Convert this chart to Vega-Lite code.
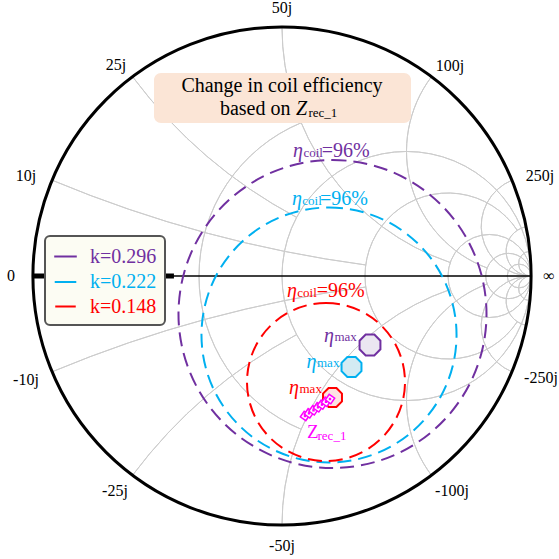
{
  "$schema": "https://vega.github.io/schema/vega-lite/v6.json",
  "width": 559,
  "height": 559,
  "autosize": "none",
  "padding": 0,
  "background": "white",
  "config": {"view": {"stroke": null}, "legend": {"strokeWidth": 2, "labelFont": "Liberation Serif", "labelFontSize": 20}},
  "datasets": {
    "grid": [
      {"cx": 0.333333, "cy": 0, "R": 0.666667, "t1": -0.39479, "t2": -2.7468},
      {"cx": 0.5, "cy": 0, "R": 0.5, "t1": 1.570796, "t2": -4.712389},
      {"cx": 0.666667, "cy": 0, "R": 0.333333, "t1": 0.98783, "t2": -4.12942},
      {"cx": 0.833333, "cy": 0, "R": 0.166667, "t1": 1.570796, "t2": -4.712389},
      {"cx": 0.909091, "cy": 0, "R": 0.090909, "t1": 1.570796, "t2": -4.712389},
      {"cx": 0.952381, "cy": 0, "R": 0.047619, "t1": 1.570796, "t2": -4.712389},
      {"cx": 1, "cy": 5, "R": 5, "t1": -2.7468, "t2": -3.00846},
      {"cx": 1, "cy": -5, "R": 5, "t1": 5.88839, "t2": 6.15005},
      {"cx": 1, "cy": 2, "R": 2, "t1": -2.214297, "t2": -2.651635},
      {"cx": 1, "cy": -2, "R": 2, "t1": 5.35589, "t2": 5.793228},
      {"cx": 1, "cy": 1, "R": 1, "t1": -1.570796, "t2": -2.811296},
      {"cx": 1, "cy": -1, "R": 1, "t1": 4.712389, "t2": 5.952889},
      {"cx": 1, "cy": 0.5, "R": 0.5, "t1": -0.927295, "t2": -2.781769},
      {"cx": 1, "cy": -0.5, "R": 0.5, "t1": 4.068888, "t2": 5.923362},
      {"cx": 1, "cy": 0.2, "R": 0.2, "t1": -0.394791, "t2": -3.141593},
      {"cx": 1, "cy": -0.2, "R": 0.2, "t1": 3.536384, "t2": 6.283185},
      {"cx": 1, "cy": 0.1, "R": 0.1, "t1": -0.199337, "t2": -3.141593},
      {"cx": 1, "cy": -0.1, "R": 0.1, "t1": 3.34093, "t2": 6.283185},
      {"cx": 1, "cy": 0.05, "R": 0.05, "t1": -0.099669, "t2": -3.141593},
      {"cx": 1, "cy": -0.05, "R": 0.05, "t1": 3.241262, "t2": 6.283185}
    ],
    "eff": [
      {"k": "0.296", "cx": 0.2028, "cy": -0.1526, "R": 0.6185},
      {"k": "0.222", "cx": 0.1888, "cy": -0.2369, "R": 0.512},
      {"k": "0.148", "cx": 0.1767, "cy": -0.4257, "R": 0.3173}
    ],
    "etamax": [
      {"k": "0.296", "X": 0.3534, "Y": -0.2771},
      {"k": "0.222", "X": 0.2791, "Y": -0.3655},
      {"k": "0.148", "X": 0.2028, "Y": -0.488}
    ],
    "trace": [
      {"X": 0.0924, "Y": -0.5622},
      {"X": 0.1084, "Y": -0.5514},
      {"X": 0.1265, "Y": -0.5394},
      {"X": 0.1446, "Y": -0.5273},
      {"X": 0.1606, "Y": -0.5165},
      {"X": 0.1767, "Y": -0.5052},
      {"X": 0.1928, "Y": -0.494}
    ],
    "ticks": [
      {"X": -1.0281, "Y": 0.4016, "t": "10j"},
      {"X": -0.6667, "Y": 0.8474, "t": "25j"},
      {"X": 0, "Y": 1.0763, "t": "50j"},
      {"X": 0.6747, "Y": 0.8434, "t": "100j"},
      {"X": 1.0361, "Y": 0.4016, "t": "250j"},
      {"X": -1.0884, "Y": 0, "t": "0"},
      {"X": 1.0723, "Y": 0, "t": "∞"},
      {"X": -1.0281, "Y": -0.4177, "t": "-10j"},
      {"X": -0.6707, "Y": -0.8635, "t": "-25j"},
      {"X": 0, "Y": -1.0843, "t": "-50j"},
      {"X": 0.6827, "Y": -0.8635, "t": "-100j"},
      {"X": 1.0402, "Y": -0.4096, "t": "-250j"}
    ],
    "eta": [
      {"k": "0.296", "X": 0.0843, "Y": 0.4779},
      {"k": "0.222", "X": 0.0803, "Y": 0.2851},
      {"k": "0.148", "X": 0.0602, "Y": -0.0831},
      {"k": "0.296", "X": 0.2088, "Y": -0.2651},
      {"k": "0.222", "X": 0.1386, "Y": -0.3695},
      {"k": "0.148", "X": 0.0683, "Y": -0.4739}
    ],
    "subs": [
      {"k": "0.296", "X": 0.0863, "Y": 0.4779, "t": "coil"},
      {"k": "0.222", "X": 0.0815, "Y": 0.2851, "t": "coil"},
      {"k": "0.148", "X": 0.0614, "Y": -0.0831, "t": "coil"},
      {"k": "0.296", "X": 0.2108, "Y": -0.261, "t": "max"},
      {"k": "0.222", "X": 0.1406, "Y": -0.3655, "t": "max"},
      {"k": "0.148", "X": 0.0703, "Y": -0.4699, "t": "max"}
    ],
    "pct": [
      {"k": "0.296", "X": 0.1594, "Y": 0.4779, "t": "=96%"},
      {"k": "0.222", "X": 0.1526, "Y": 0.2851, "t": "=96%"},
      {"k": "0.148", "X": 0.1394, "Y": -0.0831, "t": "=96%"}
    ]
  },
  "layer": [
    {
      "data": {"name": "grid"},
      "mark": {"type": "arc", "filled": false, "stroke": "#cccccc", "strokeWidth": 1},
      "encoding": {
        "x": {"field": "cx", "type": "quantitative", "scale": {"domain": [-1.13253, 1.11245], "nice": false, "zero": false}, "axis": null},
        "y": {"field": "cy", "type": "quantitative", "scale": {"domain": [-1.13655, 1.10843], "nice": false, "zero": false}, "axis": null},
        "radius": {"field": "R", "type": "quantitative", "stack": null, "scale": {"type": "linear", "domain": [0, 1], "range": [0, 249], "zero": true, "nice": false}},
        "radius2": {"field": "R"},
        "theta": {"field": "t1", "type": "quantitative", "scale": null, "stack": null},
        "theta2": {"field": "t2"}
      }
    },
    {
      "data": {"values": [{"x1": -1, "x2": -0.434, "y": 0}]},
      "mark": {"type": "rule", "color": "black", "strokeWidth": 5},
      "encoding": {
        "x": {"field": "x1", "type": "quantitative"},
        "x2": {"field": "x2"},
        "y": {"field": "y", "type": "quantitative"}
      }
    },
    {
      "data": {"values": [{"x1": -1, "x2": 1, "y": 0}]},
      "mark": {"type": "rule", "color": "black", "strokeWidth": 1.5},
      "encoding": {
        "x": {"field": "x1", "type": "quantitative"},
        "x2": {"field": "x2"},
        "y": {"field": "y", "type": "quantitative"}
      }
    },
    {
      "data": {"values": [{"x1": -0.5141, "x2": 0.5181, "y1": 0.8153, "y2": 0.6145}]},
      "mark": {"type": "rect", "fill": "#fbe5d6", "cornerRadius": 7},
      "encoding": {
        "x": {"field": "x1", "type": "quantitative"},
        "x2": {"field": "x2"},
        "y": {"field": "y1", "type": "quantitative"},
        "y2": {"field": "y2"}
      }
    },
    {
      "data": {"name": "eff"},
      "mark": {"type": "arc", "filled": false, "strokeWidth": 2, "strokeDash": [14, 7], "theta": 0, "theta2": 6.2832},
      "encoding": {
        "x": {"field": "cx", "type": "quantitative"},
        "y": {"field": "cy", "type": "quantitative"},
        "radius": {"field": "R", "type": "quantitative", "stack": null},
        "color": {
          "field": "k", "type": "nominal",
          "scale": {"domain": ["0.296", "0.222", "0.148"], "range": ["#7030a0", "#00b0f0", "#ff0000"]},
          "legend": {
            "orient": "none", "legendX": 45, "legendY": 236, "title": null,
            "symbolType": "stroke", "symbolSize": 676, "symbolStrokeWidth": 2, "symbolDash": [1, 0],
            "labelFont": "Liberation Serif", "labelFontSize": 20, "labelOffset": 12,
            "rowPadding": 3, "padding": 8, "fillColor": "#fcfcf3", "strokeColor": "#555555", "cornerRadius": 5,
            "labelExpr": "'k=' + datum.label",
            "encode": {"labels": {"update": {"fill": {"scale": "color", "field": "value"}, "font": {"value": "Liberation Serif"}, "fontSize": {"value": 20}}}}
          }
        }
      }
    },
    {
      "data": {"values": [{"cx": 0, "cy": 0, "R": 1}]},
      "mark": {"type": "arc", "filled": false, "stroke": "black", "strokeWidth": 3, "theta": 0, "theta2": 6.2832},
      "encoding": {
        "x": {"field": "cx", "type": "quantitative"},
        "y": {"field": "cy", "type": "quantitative"},
        "radius": {"field": "R", "type": "quantitative", "stack": null}
      }
    },
    {
      "data": {"name": "etamax"},
      "mark": {"type": "point", "filled": true, "strokeWidth": 2, "opacity": 1, "shape": "M0.383,-0.924L0.924,-0.383L0.924,0.383L0.383,0.924L-0.383,0.924L-0.924,0.383L-0.924,-0.383L-0.383,-0.924Z"},
      "encoding": {
        "x": {"field": "X", "type": "quantitative"},
        "y": {"field": "Y", "type": "quantitative"},
        "stroke": {"field": "k", "type": "nominal", "scale": {"domain": ["0.296", "0.222", "0.148"], "range": ["#7030a0", "#00b0f0", "#ff0000"]}, "legend": null},
        "fill": {"field": "k", "type": "nominal", "scale": {"domain": ["0.296", "0.222", "0.148"], "range": ["#ebe7f1", "#d3ebf3", "#fde3e3"]}, "legend": null},
        "size": {"field": "k", "type": "nominal", "scale": {"domain": ["0.296", "0.222", "0.148"], "range": [510, 420, 180]}, "legend": null}
      }
    },
    {
      "data": {"name": "trace"},
      "mark": {"type": "line", "color": "#ff00ff", "strokeWidth": 2},
      "encoding": {
        "x": {"field": "X", "type": "quantitative"},
        "y": {"field": "Y", "type": "quantitative"}
      }
    },
    {
      "data": {"name": "trace"},
      "mark": {"type": "point", "shape": "square", "angle": 35, "filled": true, "fill": "white", "stroke": "#ff00ff", "strokeWidth": 1.5, "size": 45, "opacity": 1},
      "encoding": {
        "x": {"field": "X", "type": "quantitative"},
        "y": {"field": "Y", "type": "quantitative"}
      }
    },
    {
      "data": {"name": "trace"},
      "mark": {"type": "point", "shape": "square", "filled": true, "color": "#ff00ff", "size": 6, "opacity": 1},
      "encoding": {
        "x": {"field": "X", "type": "quantitative"},
        "y": {"field": "Y", "type": "quantitative"}
      }
    },
    {
      "data": {"name": "ticks"},
      "mark": {"type": "text", "font": "Liberation Serif", "fontSize": 16, "align": "center", "baseline": "middle", "color": "black"},
      "encoding": {
        "x": {"field": "X", "type": "quantitative"},
        "y": {"field": "Y", "type": "quantitative"},
        "text": {"field": "t"}
      }
    },
    {
      "data": {"values": [{"X": 0, "Y": 0.7402, "t": "Change in coil efficiency"}]},
      "mark": {"type": "text", "font": "Liberation Serif", "fontSize": 20, "align": "center", "baseline": "alphabetic", "color": "black"},
      "encoding": {
        "x": {"field": "X", "type": "quantitative"},
        "y": {"field": "Y", "type": "quantitative"},
        "text": {"field": "t"}
      }
    },
    {
      "data": {"values": [{"X": 0.0341, "Y": 0.6466, "t": "based on"}]},
      "mark": {"type": "text", "font": "Liberation Serif", "fontSize": 20, "align": "right", "baseline": "alphabetic", "color": "black"},
      "encoding": {
        "x": {"field": "X", "type": "quantitative"},
        "y": {"field": "Y", "type": "quantitative"},
        "text": {"field": "t"}
      }
    },
    {
      "data": {"values": [{"X": 0.0562, "Y": 0.6466, "t": "Z"}]},
      "mark": {"type": "text", "font": "Liberation Serif", "fontSize": 20, "fontStyle": "italic", "align": "left", "baseline": "alphabetic", "color": "black"},
      "encoding": {
        "x": {"field": "X", "type": "quantitative"},
        "y": {"field": "Y", "type": "quantitative"},
        "text": {"field": "t"}
      }
    },
    {
      "data": {"values": [{"X": 0.1064, "Y": 0.6398, "t": "rec_1"}]},
      "mark": {"type": "text", "font": "Liberation Serif", "fontSize": 13, "align": "left", "baseline": "alphabetic", "color": "black"},
      "encoding": {
        "x": {"field": "X", "type": "quantitative"},
        "y": {"field": "Y", "type": "quantitative"},
        "text": {"field": "t"}
      }
    },
    {
      "data": {"name": "eta"},
      "mark": {"type": "text", "font": "Liberation Serif", "fontSize": 20, "fontStyle": "italic", "align": "right", "baseline": "alphabetic", "text": "η"},
      "encoding": {
        "x": {"field": "X", "type": "quantitative"},
        "y": {"field": "Y", "type": "quantitative"},
        "color": {"field": "k", "type": "nominal", "legend": null}
      }
    },
    {
      "data": {"name": "subs"},
      "mark": {"type": "text", "font": "Liberation Serif", "fontSize": 13, "align": "left", "baseline": "alphabetic"},
      "encoding": {
        "x": {"field": "X", "type": "quantitative"},
        "y": {"field": "Y", "type": "quantitative"},
        "text": {"field": "t"},
        "color": {"field": "k", "type": "nominal", "legend": null}
      }
    },
    {
      "data": {"name": "pct"},
      "mark": {"type": "text", "font": "Liberation Serif", "fontSize": 20, "align": "left", "baseline": "alphabetic"},
      "encoding": {
        "x": {"field": "X", "type": "quantitative"},
        "y": {"field": "Y", "type": "quantitative"},
        "text": {"field": "t"},
        "color": {"field": "k", "type": "nominal", "legend": null}
      }
    },
    {
      "data": {"values": [{"X": 0.1004, "Y": -0.6506, "t": "Z"}]},
      "mark": {"type": "text", "font": "Liberation Serif", "fontSize": 19, "align": "left", "baseline": "alphabetic", "color": "#ff00ff"},
      "encoding": {
        "x": {"field": "X", "type": "quantitative"},
        "y": {"field": "Y", "type": "quantitative"},
        "text": {"field": "t"}
      }
    },
    {
      "data": {"values": [{"X": 0.1426, "Y": -0.6586, "t": "rec_1"}]},
      "mark": {"type": "text", "font": "Liberation Serif", "fontSize": 13, "align": "left", "baseline": "alphabetic", "color": "#ff00ff"},
      "encoding": {
        "x": {"field": "X", "type": "quantitative"},
        "y": {"field": "Y", "type": "quantitative"},
        "text": {"field": "t"}
      }
    }
  ]
}
